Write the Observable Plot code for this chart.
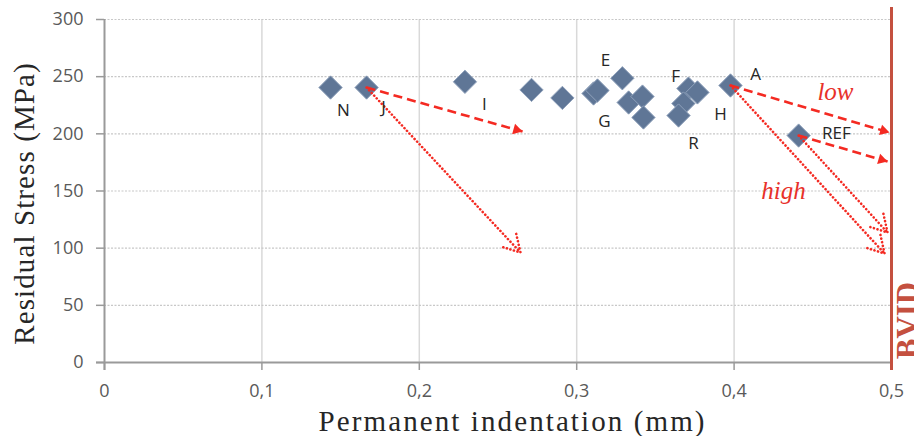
<!DOCTYPE html>
<html><head><meta charset="utf-8">
<script src="https://cdn.jsdelivr.net/npm/d3@7"></script>
<script src="https://cdn.jsdelivr.net/npm/@observablehq/plot@0.6"></script>
<style>html,body{margin:0;padding:0;background:#fff;overflow:hidden}</style>
</head><body><div id="chart"></div>
<script>
// Specimen points: permanent indentation (mm) vs residual stress (MPa)
const pointX = [0.1436, 0.1665, 0.229, 0.2713, 0.2909, 0.3107, 0.3132, 0.329, 0.333, 0.3418, 0.3424, 0.371, 0.3767, 0.3678, 0.3647, 0.3977, 0.441];
const pointY = [240.5, 240.5, 245.5, 238.4, 231.4, 235.3, 237.9, 248.6, 227.4, 232.6, 214.3, 239.6, 236.2, 226.5, 216, 242.3, 198.5];

// Point labels (anchor in data units)
const labelText = ["N", "J", "I", "E", "G", "F", "H", "R", "A", "REF"];
const labelX = [0.1518, 0.1773, 0.2414, 0.3183, 0.3177, 0.3628, 0.3914, 0.3742, 0.4136, 0.465];
const labelY = [220.4, 223, 225.7, 264, 210.8, 250, 217, 191.5, 252, 200.3];

// Trend arrows (low = dashed, high = dotted)
const arrowType = ["low", "low", "low", "high", "high", "high"];
const arrowX1 = [0.1665, 0.3977, 0.441, 0.1665, 0.3977, 0.441];
const arrowY1 = [240.5, 242.3, 198.5, 240.5, 242.3, 198.5];
const arrowX2 = [0.2656, 0.4987, 0.4975, 0.2643, 0.4956, 0.4975];
const arrowY2 = [202, 201.2, 175.8, 96.2, 95.3, 113.7];

// Annotation words
const noteText = ["low", "high"];
const noteX = [0.4644, 0.4314];
const noteY = [237, 150.4];

// Ticks
const xTicks = [0, 0.1, 0.2, 0.3, 0.4, 0.5];
const yTicks = [0, 50, 100, 150, 200, 250, 300];
const xGrid = [0.1, 0.2, 0.3, 0.4];
const yGrid = [50, 100, 150, 200, 250, 300];
const bvidX = 0.5;
const bvidLabelY = 36.7;

const points = pointX.map((x, i) => ({x, y: pointY[i]}));
const labels = labelText.map((t, i) => ({t, x: labelX[i], y: labelY[i]}));
const arrows = arrowType.map((k, i) => ({k, x1: arrowX1[i], y1: arrowY1[i], x2: arrowX2[i], y2: arrowY2[i]}));
const notes = noteText.map((t, i) => ({t, x: noteX[i], y: noteY[i]}));
const lowArrows = arrows.filter(a => a.k === "low");
const highArrows = arrows.filter(a => a.k === "high");

const RED = "#f42a22";
const fmtX = d => d === 0 ? "0" : String(d).replace(".", ",");

function build(heads) {
  return Plot.plot({
    width: 914, height: 436,
    marginLeft: 104, marginRight: 23, marginTop: 19, marginBottom: 74,
    x: {domain: [0, 0.5]},
    y: {domain: [0, 300]},
    style: {background: "#fff", fontFamily: "Open Sans"},
    marks: [
      Plot.gridX(xGrid, {stroke: "#d9d9d9", strokeOpacity: 1, strokeWidth: 1.5}),
      Plot.gridY(yGrid, {stroke: "#c8c8c8", strokeOpacity: 1, strokeWidth: 1.2, strokeDasharray: "2,1.5"}),
      Plot.axisX({ticks: xTicks, tickFormat: fmtX, tickSize: 8, tickPadding: 14, stroke: "#9a9a9a", strokeWidth: 1.5, fill: "#595959", fontSize: 18, fontFamily: "Open Sans", label: null}),
      Plot.axisY({ticks: yTicks, tickSize: 8, tickPadding: 13, stroke: "#9a9a9a", strokeWidth: 1.5, fill: "#595959", fontSize: 18, fontFamily: "Open Sans", label: null}),
      Plot.ruleX([0], {stroke: "#9a9a9a", strokeWidth: 2, insetBottom: -8}),
      Plot.ruleY([0], {stroke: "#9a9a9a", strokeWidth: 2, insetLeft: -8}),
      Plot.dot(points, {x: "x", y: "y", symbol: "diamond2", r: 10.5, fill: "#5f7696", stroke: "#8fa1bb", strokeWidth: 1}),
      Plot.link(lowArrows, {x1: "x1", y1: "y1", x2: "x2", y2: "y2", stroke: RED, strokeWidth: 2.6, strokeDasharray: "9,5"}),
      Plot.dot(heads, {x: "x", y: "y", symbol: "triangle", r: 4, fill: RED, stroke: "none", rotate: "angle"}),
      Plot.arrow(highArrows, {x1: "x1", y1: "y1", x2: "x2", y2: "y2", stroke: RED, strokeWidth: 2.6, strokeDasharray: "0.1,3.6", strokeLinecap: "round", headLength: 11, bend: false}),
      Plot.ruleX([bvidX], {stroke: "#c4503f", strokeWidth: 3, insetTop: -12, insetBottom: -8}),
      Plot.text(["BVID"], {x: bvidX, y: bvidLabelY, rotate: -90, dx: 26, lineAnchor: "bottom", fontSize: 31, fontWeight: "bold", fontFamily: "Liberation Serif", fill: "#c4503f"}),
      Plot.text(labels, {x: "x", y: "y", text: "t", fontSize: 17, fontFamily: "Open Sans", fill: "#262626"}),
      Plot.text(notes, {x: "x", y: "y", text: "t", fontSize: 25, fontStyle: "italic", fontFamily: "Liberation Serif", fill: "#e8312a"}),
      Plot.text(["Residual Stress (MPa)"], {frameAnchor: "left", textAnchor: "middle", rotate: -90, dx: -71, dy: 12.5, lineAnchor: "bottom", fontSize: 29, fontFamily: "Liberation Serif", fill: "#262626"}),
      Plot.text(["Permanent indentation (mm)"], {frameAnchor: "bottom", textAnchor: "middle", dx: 13.5, dy: 68, lineAnchor: "bottom", fontSize: 29, fontFamily: "Liberation Serif", fill: "#262626"})
    ]
  });
}

// First pass to obtain the scales, then orient the dashed-arrow heads in screen space
const probe = build([]);
const sx = probe.scale("x"), sy = probe.scale("y");
const X = d3.scaleLinear(sx.domain, sx.range), Y = d3.scaleLinear(sy.domain, sy.range);
const tip = 6.2;
const heads = lowArrows.map(a => {
  const px1 = X(a.x1), py1 = Y(a.y1), px2 = X(a.x2), py2 = Y(a.y2);
  const dx = px2 - px1, dy = py2 - py1, L = Math.hypot(dx, dy);
  const cx = px2 - dx / L * tip, cy = py2 - dy / L * tip;
  return {x: X.invert(cx), y: Y.invert(cy), angle: Math.atan2(dx, -dy) * 180 / Math.PI};
});

const chart = build(heads);
const svg = d3.select(chart);
svg.selectAll("text").filter(function () { return this.textContent === "Permanent indentation (mm)"; })
  .attr("textLength", 386).attr("lengthAdjust", "spacing");
svg.selectAll("text").filter(function () { return this.textContent === "Residual Stress (MPa)"; })
  .style("letter-spacing", "1.1px");
document.getElementById("chart").appendChild(chart);
</script>
</body></html>
